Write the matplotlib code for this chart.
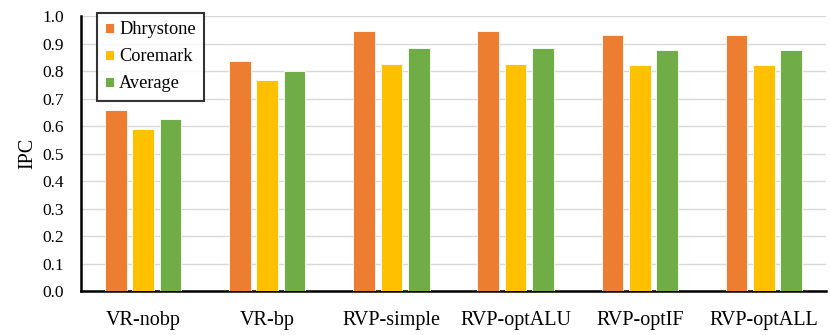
import matplotlib
matplotlib.use("Agg")
import matplotlib.pyplot as plt
import numpy as np

categories = ["VR-nobp", "VR-bp", "RVP-simple", "RVP-optALU", "RVP-optIF", "RVP-optALL"]
dhrystone = [0.66, 0.835, 0.944, 0.944, 0.933, 0.933]
coremark = [0.59, 0.766, 0.825, 0.825, 0.822, 0.822]
average = [0.625, 0.80, 0.884, 0.884, 0.877, 0.877]
series_names = ["Dhrystone", "Coremark", "Average"]
colors = ["#ED7D31", "#FFC000", "#70AD47"]
yticks = [0.0, 0.1, 0.2, 0.3, 0.4, 0.5, 0.6, 0.7, 0.8, 0.9, 1.0]

plt.rcParams['font.family'] = ['Liberation Serif', 'DejaVu Serif']

fig = plt.figure(figsize=(8.3, 3.35), dpi=100)
ax = fig.add_axes([0.0976, 0.131, 0.8975, 0.821])

x = np.arange(len(categories))
w = 0.175
pitch = 0.22
for i, (vals, name, c) in enumerate(zip([dhrystone, coremark, average], series_names, colors)):
    ax.bar(x + (i - 1) * pitch, vals, width=w, color=c, edgecolor="white", linewidth=0.6,
           label=name, zorder=3)

ax.set_xlim(-0.5, len(categories) - 0.5)
ax.set_ylim(0, 1.0)
ax.set_yticks(yticks)
ax.set_yticklabels([f"{t:.1f}" for t in yticks], fontsize=12.5)
ax.set_xticks(x)
ax.set_xticklabels(categories, fontsize=14.5)
ax.tick_params(axis='both', length=0)
ax.tick_params(axis='x', pad=14)
ax.tick_params(axis='y', pad=12)
ax.grid(axis='y', color='#d9d9d9', linewidth=1.0, zorder=0)
ax.set_axisbelow(True)
for s in ['top', 'right']:
    ax.spines[s].set_visible(False)
ax.spines['left'].set_linewidth(1.8)
ax.spines['bottom'].set_linewidth(1.8)
ax.set_ylabel("IPC", fontsize=14.5, labelpad=4)

leg = ax.legend(loc='upper left', bbox_to_anchor=(97 / 830, 1 - 13 / 335),
                bbox_transform=fig.transFigure, fontsize=13.2, frameon=True,
                fancybox=False, edgecolor='black', handlelength=0.45, handleheight=0.45,
                handletextpad=0.3, borderpad=0.45, labelspacing=0.55, borderaxespad=0)
leg.get_frame().set_linewidth(1.5)

fig.savefig("out.png", dpi=100)
